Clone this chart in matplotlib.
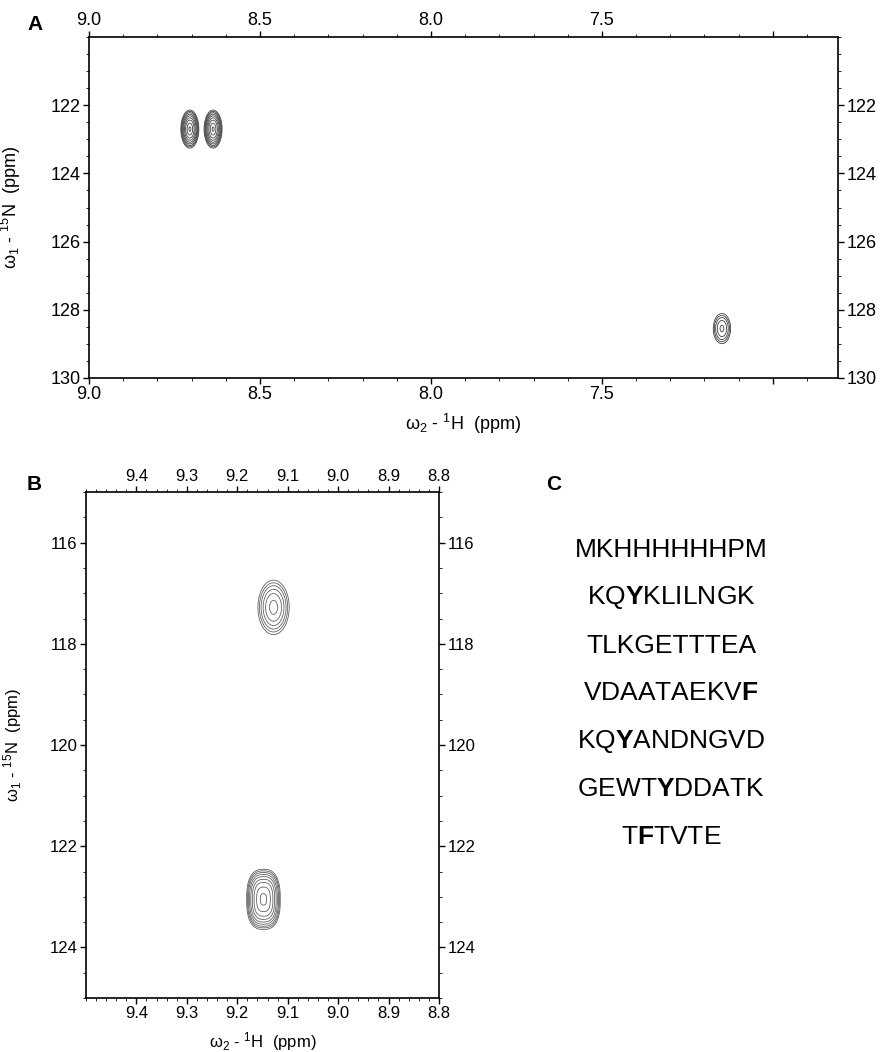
import numpy as np
import matplotlib
matplotlib.use('Agg')
import matplotlib.pyplot as plt
from matplotlib.ticker import MultipleLocator

plt.rcParams['font.family'] = ['Liberation Sans', 'DejaVu Sans']
plt.rcParams['mathtext.fontset'] = 'custom'
plt.rcParams['mathtext.rm'] = 'Liberation Sans'
plt.rcParams['mathtext.it'] = 'Liberation Sans:italic'
plt.rcParams['mathtext.bf'] = 'Liberation Sans:bold'

# panel A: HSQC peaks (1H ppm, 15N ppm, linewidths, height)
a_h = [8.705, 8.637, 7.149]
a_n = [122.70, 122.70, 128.55]
a_wh = [0.0122, 0.0122, 0.016]
a_wn = [0.26, 0.26, 0.28]
a_amp = [1.0, 1.0, 0.35]

# panel B peaks
b_h = [9.128, 9.148]
b_n = [117.28, 123.05]
b_wh = [0.0173, 0.0185]
b_wn = [0.30, 0.33]
b_amp = [0.5, 1.0]
b_shape = [2.0, 2.6]

a_xticks = [9.0, 8.5, 8.0, 7.5, 7.0]
a_xlabels = ['9.0', '8.5', '8.0', '7.5', '']
a_yticks = [122, 124, 126, 128, 130]
b_xticks = [9.4, 9.3, 9.2, 9.1, 9.0, 8.9, 8.8]
b_yticks = [116, 118, 120, 122, 124]

sequence = [r'MKHHHHHHPM',
            r'KQ$\mathbf{Y}$KLILNGK',
            r'TLKGETTTEA',
            r'VDAATAEKV$\mathbf{F}$',
            r'KQ$\mathbf{Y}$ANDNGVD',
            r'GEWT$\mathbf{Y}$DDATK',
            r'T$\mathbf{F}$TVTE']

levels = [0.1, 0.135, 0.18, 0.245, 0.33, 0.45, 0.6, 0.8, 0.97]


def spectrum(xs, ys, hs, ns, whs, wns, amps, shapes=None):
    X, Y = np.meshgrid(xs, ys)
    Z = np.zeros_like(X)
    for i in range(len(hs)):
        p = 2.0 if shapes is None else shapes[i]
        r = np.abs((X - hs[i]) / whs[i])**p + np.abs((Y - ns[i]) / wns[i])**p
        Z += amps[i] * np.exp(-0.5 * r)
    return X, Y, Z


def style_axes(ax, fs, minor_x, minor_y):
    ax.xaxis.set_minor_locator(MultipleLocator(minor_x))
    ax.yaxis.set_minor_locator(MultipleLocator(minor_y))
    ax.tick_params(which='both', direction='out', top=True, right=True,
                   labeltop=True, labelright=True, labelsize=fs, pad=2,
                   width=1.0)
    ax.tick_params(which='major', length=4)
    ax.tick_params(which='minor', length=2, width=0.6)
    for s in ax.spines.values():
        s.set_linewidth(1.2)


fig = plt.figure(figsize=(8.8, 10.52), dpi=100)

# ---- panel A
axA = fig.add_axes([0.1011, 0.6407, 0.851, 0.3241])
X, Y, Z = spectrum(np.linspace(9.0, 6.8, 1200), np.linspace(120, 130, 1000),
                   a_h, a_n, a_wh, a_wn, a_amp)
axA.contour(X, Y, Z, levels=levels, colors='#404040', linewidths=0.6)
axA.set_xlim(9.0, 6.81)
axA.set_ylim(130, 120)
axA.set_xticks(a_xticks)
axA.set_xticklabels(a_xlabels)
axA.set_yticks(a_yticks)
style_axes(axA, 13, 0.1, 0.5)
axA.set_xlabel(r'ω$_2$ - $^1$H  (ppm)', fontsize=13, labelpad=6)
axA.set_ylabel(r'ω$_1$ - $^{15}$N  (ppm)', fontsize=13)
axA.yaxis.set_label_coords(-0.088, 0.5)
fig.text(27 / 880, 1 - 25 / 1052, 'A', fontsize=15, fontweight='bold',
         va='center', ha='left')

# ---- panel B
axB = fig.add_axes([0.0977, 0.0513, 0.4011, 0.481])
X, Y, Z = spectrum(np.linspace(9.5, 8.8, 700), np.linspace(115, 125, 1000),
                   b_h, b_n, b_wh, b_wn, b_amp, b_shape)
axB.contour(X, Y, Z, levels=levels, colors='#555555', linewidths=0.55)
axB.set_xlim(9.5, 8.8)
axB.set_ylim(125, 115)
axB.set_xticks(b_xticks)
axB.set_xticklabels(['%.1f' % v for v in b_xticks])
axB.set_yticks(b_yticks)
style_axes(axB, 12, 0.02, 0.5)
axB.set_xlabel(r'ω$_2$ - $^1$H  (ppm)', fontsize=12, labelpad=6)
axB.set_ylabel(r'ω$_1$ - $^{15}$N  (ppm)', fontsize=12)
axB.yaxis.set_label_coords(-0.175, 0.5)
fig.text(27 / 880, 1 - 485 / 1052, 'B', fontsize=15, fontweight='bold',
         va='center', ha='left')

# ---- panel C
fig.text(546 / 880, 1 - 485 / 1052, 'C', fontsize=15, fontweight='bold',
         va='center', ha='left')
for i, line in enumerate(sequence):
    fig.text(671 / 880, 1 - (550 + 47.8 * i) / 1052, line, fontsize=19,
             ha='center', va='center')

fig.savefig('out.png', dpi=100)
